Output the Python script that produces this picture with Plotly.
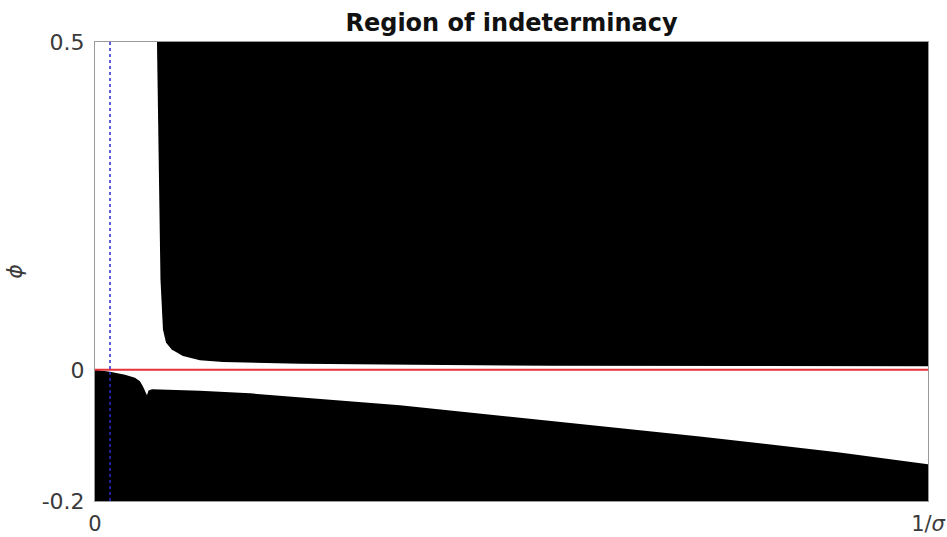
import plotly.graph_objects as go

# Upper indeterminacy region: left edge (top -> corner) then lower edge out to 1/sigma
upper_x = [0.0744, 0.0768, 0.0786, 0.0804, 0.0816, 0.0852, 0.0920, 0.1056, 0.126,
           0.1537, 0.186, 0.246, 0.382, 0.546, 0.786, 1.0]
upper_y = [0.5, 0.260, 0.138, 0.0922, 0.0617, 0.0419, 0.0312, 0.0210, 0.0145,
           0.0119, 0.0107, 0.0095, 0.0076, 0.0064, 0.0059, 0.0056]

# Lower indeterminacy region: upper edge from the origin to 1/sigma
lower_x = [0.0, 0.018, 0.036, 0.048, 0.054, 0.0576, 0.0606, 0.0624, 0.0642, 0.0684,
           0.126, 0.186, 0.366, 0.546, 0.726, 0.894, 1.0]
lower_y = [0.0, -0.003, -0.0076, -0.0122, -0.0175, -0.0252, -0.0343, -0.0389, -0.0313,
           -0.0297, -0.032, -0.0358, -0.0541, -0.078, -0.1015, -0.126, -0.144]

x_range = [0.0, 1.0]
y_range = [-0.2, 0.5]
x_ticks = [0.0, 1.0]
x_tick_text = ["0", "1/<i>σ</i>"]
y_ticks = [-0.2, 0.0, 0.5]
y_tick_text = ["-0.2", "0", "0.5"]
phi_zero = 0.0          # reference level phi = 0
threshold_x = 0.018     # dotted marker position

fig = go.Figure()

# upper region polygon (closed along the top-right corner)
fig.add_trace(go.Scatter(
    x=upper_x + [x_range[1], upper_x[0]],
    y=upper_y + [y_range[1], y_range[1]],
    mode="lines", fill="toself", fillcolor="black",
    line=dict(width=0, color="black"), hoverinfo="skip", showlegend=False))

# lower region polygon (closed along the bottom)
fig.add_trace(go.Scatter(
    x=[x_range[0]] + lower_x + [x_range[1]],
    y=[y_range[0]] + lower_y + [y_range[0]],
    mode="lines", fill="toself", fillcolor="black",
    line=dict(width=0, color="black"), hoverinfo="skip", showlegend=False))

# phi = 0 line
fig.add_trace(go.Scatter(
    x=x_range, y=[phi_zero, phi_zero], mode="lines",
    line=dict(color="#e53238", width=2), hoverinfo="skip", showlegend=False))

# dotted vertical marker
fig.add_trace(go.Scatter(
    x=[threshold_x, threshold_x], y=y_range, mode="lines",
    line=dict(color="#2b2bd6", width=1.5, dash="dot"), hoverinfo="skip", showlegend=False))

font_family = "DejaVu Sans, Arial, sans-serif"

fig.update_layout(
    width=947, height=537,
    margin=dict(l=95, r=19, t=42, b=36),
    paper_bgcolor="white", plot_bgcolor="white",
    title=dict(text="<b>Region of indeterminacy</b>", x=0.5, xref="paper",
               xanchor="center", y=1 - 23 / 537, yref="container", yanchor="middle",
               font=dict(family=font_family, size=24, color="#111")),
    font=dict(family=font_family, color="#333"),
)

fig.update_xaxes(range=x_range, tickvals=x_ticks, ticktext=x_tick_text,
                 showgrid=False, zeroline=False, showline=True, mirror=True,
                 linecolor="#9a9a9a", linewidth=1, ticks="", automargin=False,
                 ticklabelstandoff=4,
                 tickfont=dict(size=21, color="#3a3a3a"))
fig.update_yaxes(range=y_range, tickvals=y_ticks, ticktext=y_tick_text,
                 showgrid=False, zeroline=False, showline=True, mirror=True,
                 linecolor="#9a9a9a", linewidth=1, ticks="", automargin=False,
                 ticklabelstandoff=5,
                 tickfont=dict(size=22, color="#3a3a3a"),
                 title=dict(text="<i>ϕ</i>", standoff=12,
                            font=dict(size=22, color="#3a3a3a")))

fig.write_html("out.html")
